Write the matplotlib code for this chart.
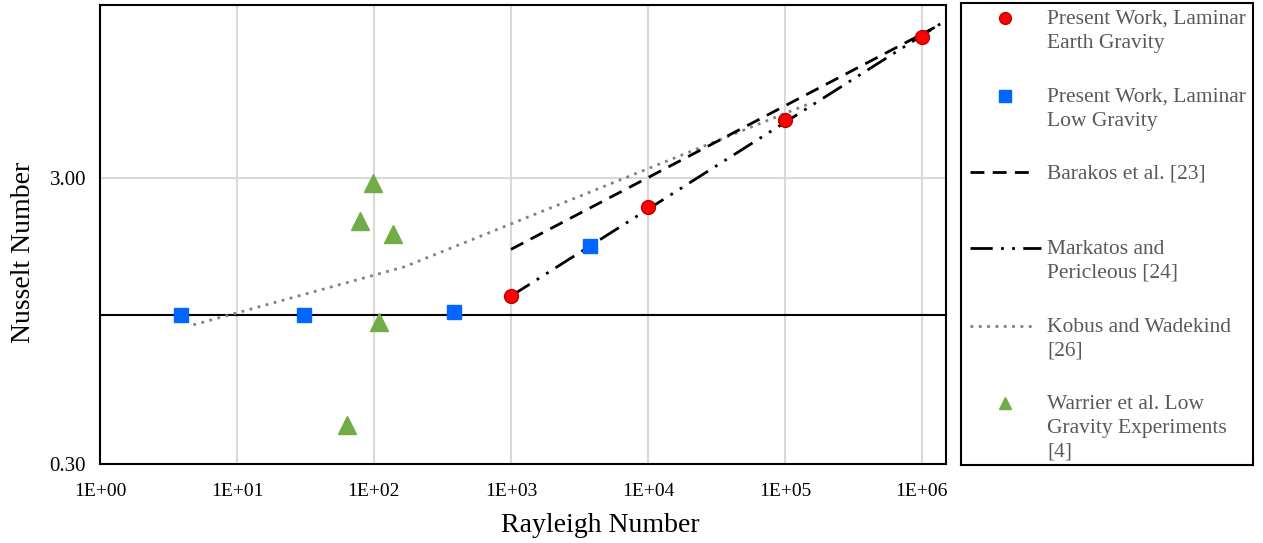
import math

import matplotlib
matplotlib.use("Agg")
import matplotlib.pyplot as plt
from matplotlib.ticker import FixedLocator, FuncFormatter, NullLocator

# data
earth_ra = [1e3, 1e4, 1e5, 1e6]
earth_nu = [1.16, 2.37, 4.79, 9.38]

low_ra = [3.9, 31, 384, 3775]
low_nu = [1.0, 1.0, 1.02, 1.73]

warrier_ra = [98, 79, 138, 109, 64]
warrier_nu = [2.88, 2.12, 1.92, 0.94, 0.41]

barakos_ra = [1e3, 1.24e6]
barakos_nu = [1.69, 10.1]

markatos_ra = [1e3, 1.5e6]
markatos_nu = [1.16, 10.7]

kobus_ra = [4.8, 168, 1.47e5]
kobus_nu = [0.92, 1.47, 5.44]

unity_nu = 1.0

labels = ["Present Work, Laminar\nEarth Gravity",
          "Present Work, Laminar\nLow Gravity",
          "Barakos et al. [23]",
          "Markatos and\nPericleous [24]",
          "Kobus and Wadekind\n[26]",
          "Warrier et al. Low\nGravity Experiments\n[4]"]

plt.rcParams['font.family'] = ['Liberation Serif', 'DejaVu Serif']

W, H = 1263, 543
fig = plt.figure(figsize=(W / 100, H / 100), dpi=100)
ax = fig.add_axes([100 / W, (H - 464) / H, 846 / W, 459 / H])

ax.set_xscale('log')
ax.set_yscale('log')
ax.set_xlim(1, 1.5e6)
ax.set_ylim(0.3, 12.1)

ax.xaxis.set_major_locator(FixedLocator([10.0 ** k for k in range(7)]))
ax.xaxis.set_minor_locator(NullLocator())
ax.yaxis.set_major_locator(FixedLocator([0.3, 3.0]))
ax.yaxis.set_minor_locator(NullLocator())
ax.xaxis.set_major_formatter(FuncFormatter(lambda v, p: '1E+%02d' % round(math.log10(v))))
ax.yaxis.set_major_formatter(FuncFormatter(lambda v, p: '%.2f' % v))
ax.tick_params(axis='x', length=0, labelsize=14, pad=14)
ax.tick_params(axis='y', length=0, labelsize=15, pad=10)
ax.grid(True, color='#d9d9d9', linewidth=1.5, zorder=0)
ax.set_axisbelow(True)
for s in ax.spines.values():
    s.set_linewidth(1.5)
    s.set_color('black')

ls_mark = (0, (8, 3, 1, 3, 1, 3))

ax.axhline(unity_nu, color='black', linewidth=1.5, zorder=2)
ax.plot(kobus_ra, kobus_nu, color='#808080', linestyle=(0, (1, 2)), linewidth=2, zorder=2)
ax.plot(barakos_ra, barakos_nu, color='black', linestyle=(0, (5, 3)), linewidth=2, zorder=2)
ax.plot(markatos_ra, markatos_nu, color='black', linestyle=ls_mark, linewidth=2, zorder=2)

ax.plot(earth_ra, earth_nu, 'o', color='#ff0000', markeredgecolor='#c00000', markersize=10, zorder=4)
ax.plot(low_ra, low_nu, 's', color='#0066ff', markeredgecolor='#0066ff', markersize=10, zorder=4)
ax.plot(warrier_ra, warrier_nu, '^', color='#70ad47', markeredgecolor='#70ad47', markersize=12.5, zorder=4)

ax.set_xlabel('Rayleigh Number', fontsize=20)
ax.set_ylabel('Nusselt Number', fontsize=20)
ax.xaxis.label.set_va('center')
ax.yaxis.label.set_va('center')
ax.xaxis.set_label_coords(500 / 846, -62 / 459)
ax.yaxis.set_label_coords(-76 / 846, 212 / 459)

# legend drawn by hand so the first text line sits next to the handle
lg = fig.add_axes([961 / W, (H - 465) / H, 292 / W, 462 / H])
lg.set_xlim(0, 292)
lg.set_ylim(462, 0)
lg.set_xticks([])
lg.set_yticks([])
for s in lg.spines.values():
    s.set_linewidth(1.5)
    s.set_color('black')

rows = [15, 93, 169, 245, 323, 400]
lg.plot([44], [rows[0]], 'o', color='#ff0000', markeredgecolor='#c00000', markersize=8.5)
lg.plot([44], [rows[1]], 's', color='#0066ff', markersize=8)
lg.plot([9, 70], [rows[2]] * 2, color='black', linestyle=(0, (5, 3)), linewidth=2)
lg.plot([9, 80], [rows[3]] * 2, color='black', linestyle=ls_mark, linewidth=2)
lg.plot([9, 75], [rows[4]] * 2, color='#808080', linestyle=(0, (1, 2)), linewidth=2)
lg.plot([44], [rows[5]], '^', color='#70ad47', markersize=8.5)
for y, t in zip(rows, labels):
    lg.text(86, y - 8, t, fontsize=15.5, color='#595959', va='top', ha='left', linespacing=1.35)

fig.savefig('out.png', dpi=100)
